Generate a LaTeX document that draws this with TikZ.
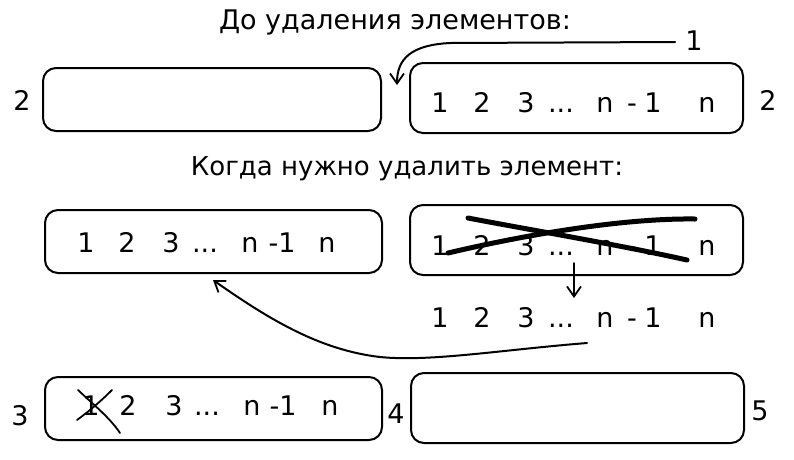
\documentclass[tikz,border=0pt]{standalone}
\usepackage{fontspec}
\setmainfont{DejaVu Sans}
\usetikzlibrary{arrows.meta}
\newcommand{\tdots}{...}
\begin{document}
\begin{tikzpicture}[x=1pt,y=-1pt,
  box/.style={draw, line width=2pt, rounded corners=13pt, inner sep=0pt},
  tok/.style={anchor=base, inner sep=0pt, font=\fontsize{27}{31}\selectfont},
  ttl/.style={anchor=base, inner sep=0pt},
  conn/.style={line width=2pt, line cap=round, -{Straight Barb[length=10pt,width=14pt,line width=1.8pt]}},
  strike/.style={line width=5pt, line cap=round},
  thinstrike/.style={line width=1.8pt, line cap=round}
]
\useasboundingbox (0,0) rectangle (794,459);

% titles
\node[ttl, font=\fontsize{27}{31}\selectfont] (t1) at (395,29) {До удаления элементов:};
\node[ttl, font=\fontsize{26}{30}\selectfont] (t2) at (407,175) {Когда нужно удалить элемент:};

% boxes
\node[box, minimum width=338pt, minimum height=63pt] (A) at (212,99.5) {};
\node[box, minimum width=333pt, minimum height=70pt] (B) at (576.5,98) {};
\node[box, minimum width=337pt, minimum height=63pt] (C) at (213.5,241.5) {};
\node[box, minimum width=333pt, minimum height=70pt] (D) at (576.5,240) {};
\node[box, minimum width=337pt, minimum height=63pt] (E) at (213.5,408.5) {};
\node[box, minimum width=333pt, minimum height=70pt] (F) at (577.5,408) {};

% side labels
\node[tok] (lA) at (22,110) {2};
\node[tok] (lB) at (768,110) {2};
\node[tok] (one) at (694,50) {1};
\node[tok] (lE) at (20,425) {3};
\node[tok] (lE2) at (396,423) {4};
\node[tok] (lF) at (760,420) {5};

% tokens in B, D and below D
\foreach \r/\yy in {b/112, d/255, l/327}{
  \foreach \x/\t [count=\i] in {440/1, 482/2, 526/3, 561/\tdots, 605/n, 632/-, 653/1, 707/n}{
    \node[tok] (\r\i) at (\x,\yy) {\t};
  }
}
% tokens in C
\foreach \x/\t [count=\i] in {86/1, 127/2, 171/3, 205/\tdots, 250/n, 282/-1, 327/n}{
  \node[tok] (c\i) at (\x,252) {\t};
}
% tokens in E
\foreach \x/\t [count=\i] in {91/1, 128/2, 174/3, 207/\tdots, 252/n, 283/-1, 330/n}{
  \node[tok] (e\i) at (\x,415) {\t};
}

% strike-out in D
\draw[strike] (448,253) .. controls (520,236) and (620,218) .. (695,219);
\draw[strike] (468,218) .. controls (520,228) and (620,245) .. (687,260);

% crossed 1 in E
\draw[thinstrike] (78,390) .. controls (95,406) and (110,418) .. (120,433);
\draw[thinstrike] (112,390) .. controls (100,402) and (88,412) .. (77,420);

% connectors
\coordinate (tipTop) at (397,85);
\draw[conn] ([xshift=-10pt]one.west |- 0,42) -- (450,43) .. controls (412,45) and (397,58) .. (tipTop);

\coordinate (dstart) at (574,263);
\coordinate (dend) at (574,298);
\draw[conn, line width=1.5pt] (dstart) -- (dend);

\coordinate (bstart) at (587,343);
\coordinate (bend) at (213,280);
\draw[conn] (bstart) .. controls (500,350) and (430,362) .. (380,357) .. controls (320,350) and (270,320) .. (bend);

\end{tikzpicture}
\end{document}
